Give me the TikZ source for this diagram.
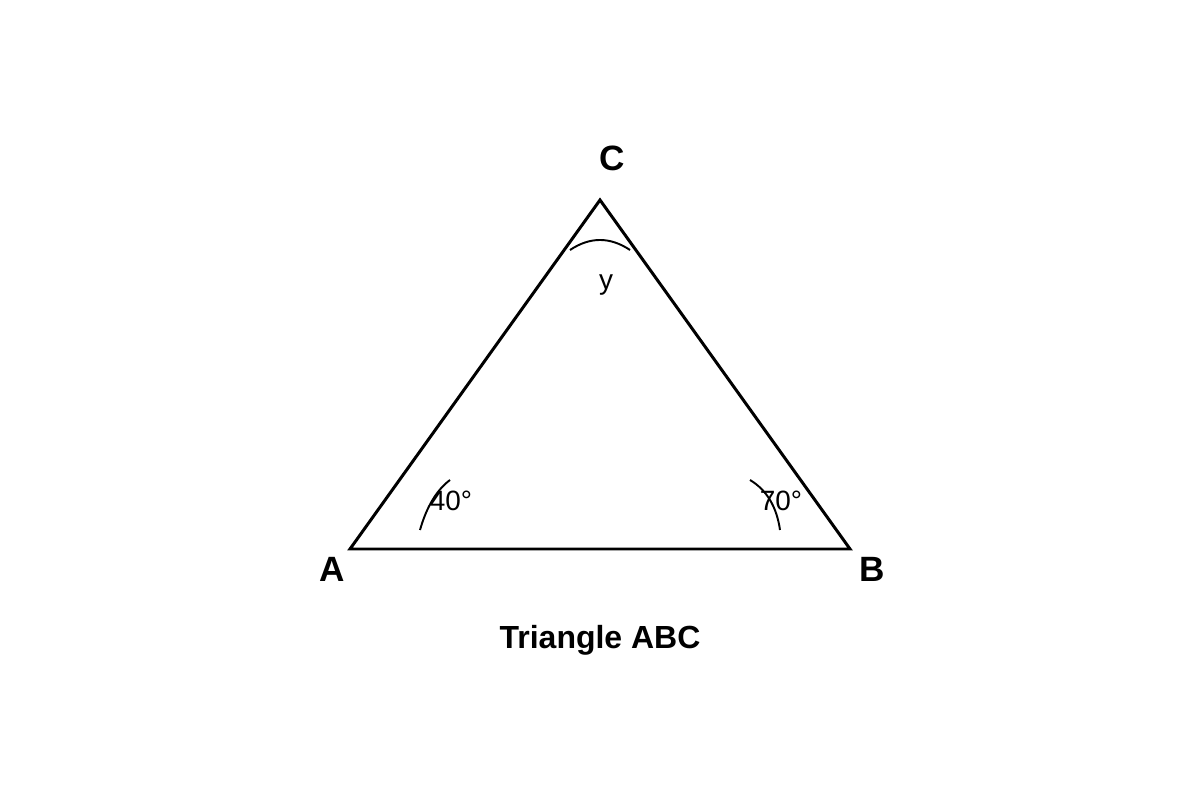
\documentclass[tikz,border=0pt]{standalone}
\usepackage{fontspec}
\setmainfont{Liberation Sans}
\usepackage{tikz}

\begin{document}
\begin{tikzpicture}[
    vertexlabel/.style={font=\fontsize{20pt}{23pt}\selectfont\bfseries},
    anglelabel/.style={font=\fontsize{15.9pt}{18pt}\selectfont},
    anglearc/.style={line width=1.1pt}
]
    \def \baseY {5.02}
    \useasboundingbox (0,0) rectangle (24,16);
    \coordinate (A) at (7,\baseY);
    \coordinate (B) at (17,\baseY);
    \coordinate (C) at (12,12);
    \draw[line width=1.7pt, line join=miter] (A) -- (B) -- (C) -- cycle;
    % angle marks
    \draw[anglearc] (8.4,5.4) .. controls (8.533,5.867) and (8.733,6.2) .. (9,6.4);
    \draw[anglearc] (15,6.4) .. controls (15.333,6.2) and (15.533,5.867) .. (15.6,5.4);
    \draw[anglearc] (11.4,11) .. controls (11.8,11.267) and (12.2,11.267) .. (12.6,11);
    \node[vertexlabel] (labelA) at (6.64,4.62) {A};
    \node[vertexlabel] (labelB) at (17.44,4.62) {B};
    \node[vertexlabel] (labelC) at (12.24,12.84) {C};
    \node[anglelabel] (angleA) at (9.02,5.98) {40°};
    \node[anglelabel] (angleB) at (15.62,5.98) {70°};
    \node[anglelabel] (angleC) at (12.12,10.3) {y};
    \node[font=\fontsize{18.2pt}{21pt}\selectfont\bfseries] (title) at (12,3.2) {Triangle ABC};
\end{tikzpicture}
\end{document}
